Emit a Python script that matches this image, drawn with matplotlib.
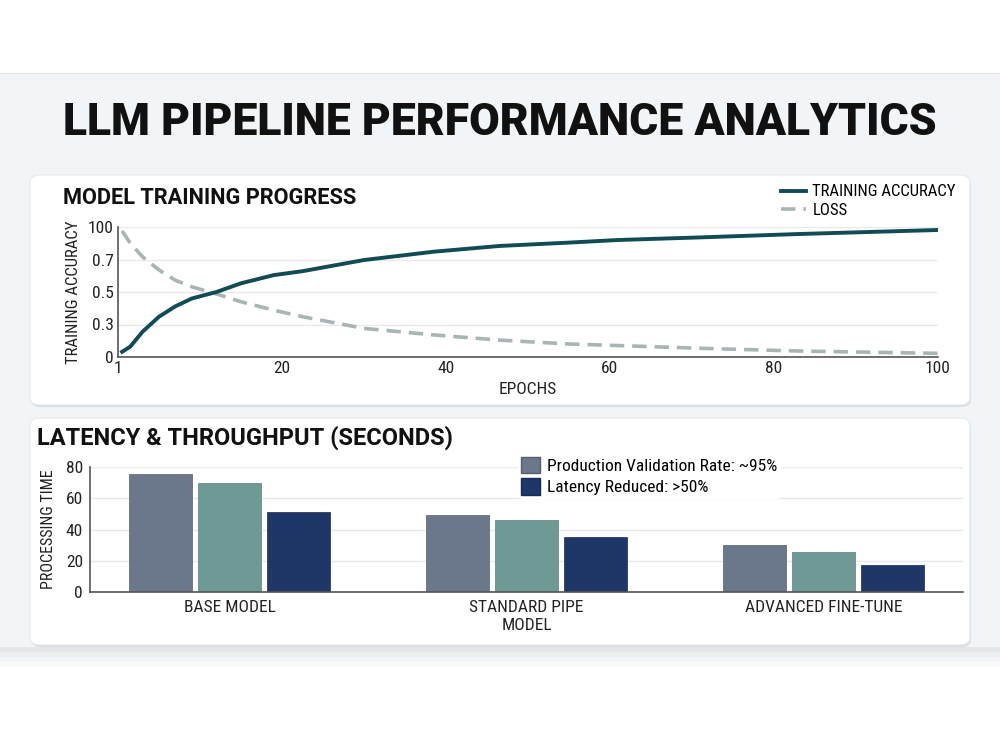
import numpy as np
import matplotlib
matplotlib.use("Agg")
import matplotlib.pyplot as plt
from matplotlib.patches import FancyBboxPatch, Rectangle
from matplotlib.lines import Line2D
from matplotlib.patches import Patch

plt.rcParams['font.family'] = ['Roboto Condensed', 'Archivo Narrow', 'Roboto', 'DejaVu Sans']
BOLD = ['Roboto', 'DejaVu Sans']

# ---- data ----
epochs = [0.5, 1.5, 3, 5, 7, 9, 12, 15, 19, 22.5, 30, 38.5, 46.5, 55, 61, 71, 83, 100]
accuracy = [0.04, 0.08, 0.195, 0.31, 0.39, 0.45, 0.50, 0.567, 0.63, 0.66, 0.746, 0.81,
            0.854, 0.88, 0.90, 0.92, 0.946, 0.977]
loss = [0.97, 0.875, 0.77, 0.67, 0.59, 0.54, 0.485, 0.425, 0.36, 0.31, 0.22, 0.17,
        0.13, 0.10, 0.088, 0.067, 0.046, 0.028]
acc_ticks = [0, 0.25, 0.5, 0.75, 1.0]
acc_ticklabels = ["0", "0.3", "0.5", "0.7", "100"]
epoch_ticks = [0, 20, 40, 60, 80, 100]
epoch_ticklabels = ["1", "20", "40", "60", "80", "100"]

models = ["BASE MODEL", "STANDARD PIPE\nMODEL", "ADVANCED FINE-TUNE"]
series_a = [75.5, 49.3, 30.0]
series_b = [69.8, 46.0, 25.6]
series_c = [51.2, 35.0, 17.3]
time_ticks = [0, 20, 40, 60, 80]

W, H = 1000, 749
fig = plt.figure(figsize=(W / 100, H / 100), dpi=100)
fig.patch.set_facecolor("white")

def fx(px):
    return px / W

def fy(py):
    return 1 - py / H

# background band + bottom shadow
fig.patches.append(Rectangle((0, fy(647)), 1, fy(73) - fy(647), transform=fig.transFigure,
                             facecolor="#f2f5f7", edgecolor="none", zorder=-3))
for i, c in enumerate(["#e4e6e8", "#eceeef", "#f3f4f5", "#f9f9fa"]):
    fig.patches.append(Rectangle((0, fy(647 + 5 * (i + 1))), 1, 5 / H, transform=fig.transFigure,
                                 facecolor=c, edgecolor="none", zorder=-3))
fig.add_artist(Line2D([0, 1], [fy(73), fy(73)], transform=fig.transFigure, color="#e3e6e8", lw=1,
                      zorder=-2))

# panels
for (x0, y0, x1, y1) in [(30, 175, 970, 405), (30, 418, 970, 645)]:
    fig.patches.append(FancyBboxPatch((fx(x0 + 1), fy(y1 + 2)), fx(x1 - x0), fy(y0) - fy(y1),
                                      boxstyle="round,pad=0,rounding_size=0.01",
                                      transform=fig.transFigure, facecolor="#d9dcdf",
                                      edgecolor="none", zorder=-2))
    fig.patches.append(FancyBboxPatch((fx(x0), fy(y1)), fx(x1 - x0), fy(y0) - fy(y1),
                                      boxstyle="round,pad=0,rounding_size=0.01",
                                      transform=fig.transFigure, facecolor="white",
                                      edgecolor="#e6e8ea", lw=0.8, zorder=-1))

fig.text(0.5, fy(123), "LLM PIPELINE PERFORMANCE ANALYTICS", ha="center", va="center",
         fontsize=32, fontweight="black", family=BOLD, color="#111111")

# ---- training progress ----
ax1 = fig.add_axes([fx(118), fy(357), fx(938 - 118), fy(227) - fy(357)])
ax1.set_zorder(2)
ax1.set_facecolor("none")
ax1.plot(epochs, loss, color="#a9b5b4", lw=2.6, dashes=(4, 2.2), label="LOSS", zorder=2)
ax1.plot(epochs, accuracy, color="#114b55", lw=2.8, label="TRAINING ACCURACY", zorder=3,
         solid_joinstyle="round")
ax1.set_xlim(0, 100)
ax1.set_ylim(0, 1.0)
ax1.set_yticks(acc_ticks)
ax1.set_yticklabels(acc_ticklabels)
ax1.set_xticks(epoch_ticks)
ax1.set_xticklabels(epoch_ticklabels)
ax1.grid(axis="y", color="#e8eaeb", lw=1)
ax1.tick_params(length=0, labelsize=12.5, colors="#222222", pad=3)
for s in ["top", "right"]:
    ax1.spines[s].set_visible(False)
for s in ["left", "bottom"]:
    ax1.spines[s].set_color("#555555")
    ax1.spines[s].set_linewidth(1.2)
ax1.set_xlabel("EPOCHS", fontsize=12.5, color="#222222", labelpad=4)
ax1.set_ylabel("TRAINING ACCURACY", fontsize=12, color="#222222", labelpad=5)
h, l = ax1.get_legend_handles_labels()
leg1 = ax1.legend(h[::-1], l[::-1], loc="lower right", bbox_to_anchor=(1.03, 1.02),
                  frameon=False, fontsize=12, handlelength=1.5, handletextpad=0.4,
                  labelspacing=0.2, borderaxespad=0)
fig.text(fx(63), fy(198), "MODEL TRAINING PROGRESS", ha="left", va="center",
         fontsize=15.7, fontweight="bold", family=BOLD, color="#111111")

# ---- latency ----
ax2 = fig.add_axes([fx(90), fy(592), fx(963 - 90), fy(467) - fy(592)])
ax2.set_zorder(2)
ax2.set_facecolor("none")
x = np.arange(len(models))
bw = 0.21
off = 0.232
cols = ["#6b778a", "#6f9995", "#1e3766"]
ax2.bar(x - off, series_a, bw, color=cols[0], edgecolor="#55606f", lw=0.5, zorder=2)
ax2.bar(x, series_b, bw, color=cols[1], edgecolor="#5b807d", lw=0.5, zorder=2)
ax2.bar(x + off, series_c, bw, color=cols[2], edgecolor="#172a50", lw=0.5, zorder=2)
ax2.set_xlim(-0.47, 2.47)
ax2.set_ylim(0, 80)
ax2.set_yticks(time_ticks)
ax2.set_xticks(x)
ax2.set_xticklabels(models)
ax2.grid(axis="y", color="#e8eaeb", lw=1, zorder=0)
ax2.tick_params(length=0, labelsize=12.5, colors="#222222", pad=5)
ax2.tick_params(axis="x", pad=6)
for s in ["top", "right"]:
    ax2.spines[s].set_visible(False)
for s in ["left", "bottom"]:
    ax2.spines[s].set_color("#555555")
    ax2.spines[s].set_linewidth(1.2)
ax2.set_ylabel("PROCESSING TIME", fontsize=11.5, color="#222222", labelpad=7)
handles = [Patch(facecolor=cols[0], edgecolor="#55606f"), Patch(facecolor=cols[2], edgecolor="#172a50")]
leg2 = ax2.legend(handles, ["Production Validation Rate: ~95%", "Latency Reduced: >50%"],
                  loc="upper left", bbox_to_anchor=(0.48, 1.18), frameon=True, facecolor="white",
                  edgecolor="none", framealpha=1, fontsize=12.5, handlelength=1.1,
                  handleheight=1.1, handletextpad=0.4, labelspacing=0.25, borderpad=0.2)
fig.text(fx(37), fy(438), "LATENCY & THROUGHPUT (SECONDS)", ha="left", va="center",
         fontsize=17, fontweight="bold", family=BOLD, color="#111111")

fig.savefig("out.png", dpi=100)
